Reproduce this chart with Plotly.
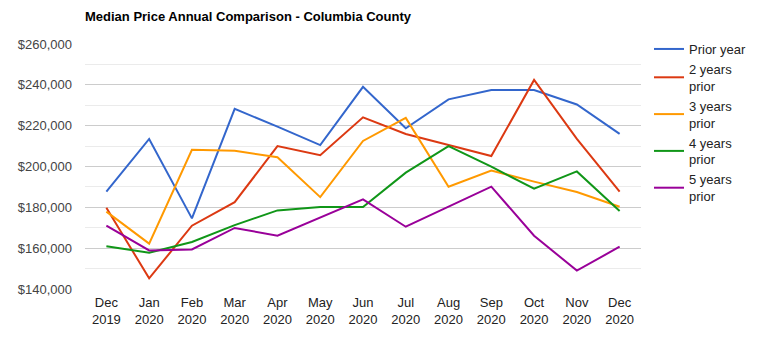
import plotly.graph_objects as go

months = ["Dec<br>2019", "Jan<br>2020", "Feb<br>2020", "Mar<br>2020", "Apr<br>2020",
          "May<br>2020", "Jun<br>2020", "Jul<br>2020", "Aug<br>2020", "Sep<br>2020",
          "Oct<br>2020", "Nov<br>2020", "Dec<br>2020"]

prior_year = [187700, 213500, 174600, 228200, 219500, 210500, 239000,
              218700, 232900, 237500, 237500, 230400, 216000]
two_years = [179800, 145200, 171000, 182500, 210000, 205500, 224100,
             215900, 210500, 205100, 242400, 213500, 187700]
three_years = [177900, 162200, 208200, 207700, 204500, 185000, 212500,
               223800, 190100, 198000, 192600, 187500, 180300]
four_years = [160900, 157800, 163000, 171300, 178500, 180200, 180200,
              197000, 210000, 199900, 189100, 197600, 178200]
five_years = [171000, 158900, 159400, 169900, 166100, 175100, 183900,
              170500, 180300, 190100, 166100, 149000, 160700]

series = [
    ("Prior year", prior_year, "#3366cc"),
    ("2 years<br>prior", two_years, "#dc3912"),
    ("3 years<br>prior", three_years, "#ff9900"),
    ("4 years<br>prior", four_years, "#109618"),
    ("5 years<br>prior", five_years, "#990099"),
]

fig = go.Figure()
for name, vals, color in series:
    fig.add_trace(go.Scatter(x=months, y=vals, name=name, mode="lines",
                             line=dict(color=color, width=2)))

font = "Arial, Liberation Sans, sans-serif"
fig.update_layout(
    width=759, height=339,
    margin=dict(l=85, r=118, t=44, b=50, autoexpand=False),
    paper_bgcolor="white", plot_bgcolor="white",
    font=dict(family=font, size=13, color="#222222"),
    title=dict(text="<b>Median Price Annual Comparison - Columbia County</b>",
               x=85/759, xanchor="left", y=1 - 16/339, yanchor="middle",
               font=dict(family=font, size=13, color="#000000")),
    showlegend=True,
    legend=dict(x=649/759, xanchor="left", y=1 - 34/339, yanchor="top",
                xref="container", yref="container", maxheight=320,
                font=dict(family=font, size=13, color="#222222"),
                itemwidth=30, tracegroupgap=0, bgcolor="rgba(0,0,0,0)"),
    xaxis=dict(type="category", range=[-0.5, 12.5], showgrid=False,
               showline=False, ticks="", ticklabelstandoff=4,
               tickfont=dict(size=13, color="#222222")),
    yaxis=dict(range=[140000, 260000], dtick=20000, tickformat="$,.0f",
               showgrid=True, gridcolor="#cccccc", gridwidth=1,
               zeroline=False, showline=False, ticks="", ticklabelstandoff=12,
               tickfont=dict(size=13, color="#444444"),
               minor=dict(dtick=10000, showgrid=True, gridcolor="#ebebeb")),
)

fig.write_html("out.html")
